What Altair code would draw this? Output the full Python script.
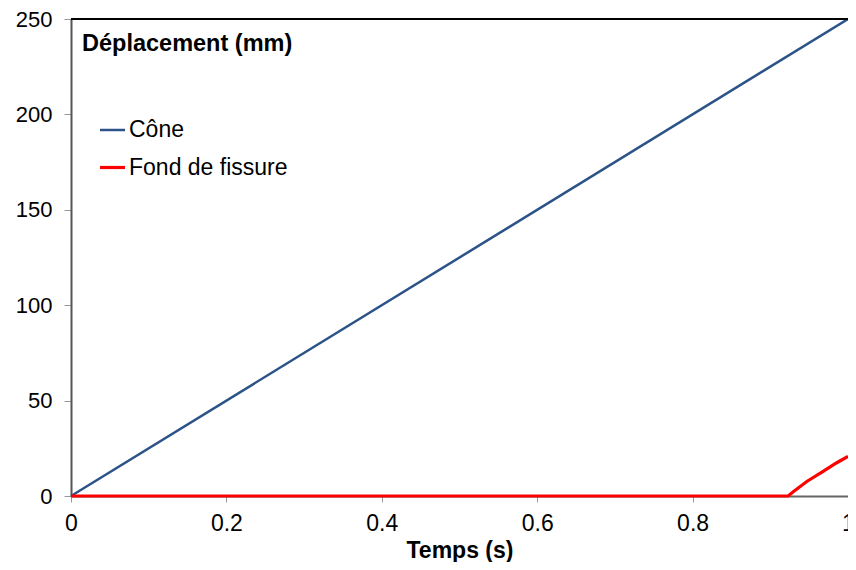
import altair as alt
import pandas as pd

# Data
cone_t = [0.0, 1.0]
cone_v = [0.0, 250.0]
fond_t = [0.0, 0.923, 0.930, 0.947, 0.968, 0.985, 1.0]
fond_v = [0.0, 0.0, 2.4, 7.6, 12.9, 17.3, 20.8]
series = ["Cône", "Fond de fissure"]
colors = ["#2C5388", "#FF0000"]
x_ticks = [0, 0.2, 0.4, 0.6, 0.8, 1]
y_ticks = [0, 50, 100, 150, 200, 250]

rows = []
for t, v in zip(cone_t, cone_v):
    rows.append({"t": t, "v": v, "s": series[0], "o": 0})
for t, v in zip(fond_t, fond_v):
    rows.append({"t": t, "v": v, "s": series[1], "o": 1})
df = pd.DataFrame(rows)

FONT = "Liberation Sans"
W, H = 777, 477
FS = 23

lines = alt.Chart(df).mark_line(clip=False).encode(
    x=alt.X("t:Q", scale=alt.Scale(domain=[0, 1], nice=False),
            axis=alt.Axis(values=x_ticks, title="Temps (s)", grid=False,
                          labelFontSize=FS, labelFont=FONT, labelColor="#000",
                          labelPadding=10, tickSize=6, tickColor="#999",
                          domainColor="#666", domainWidth=2,
                          titleFontSize=FS, titleFont=FONT, titleFontWeight="bold",
                          titleColor="#000", titlePadding=4, labelFlush=False,
                          format="~g")),
    y=alt.Y("v:Q", scale=alt.Scale(domain=[0, 250], nice=False),
            axis=alt.Axis(values=y_ticks, title=None, grid=False,
                          labelFontSize=22, labelFont=FONT, labelColor="#000",
                          labelPadding=12, tickSize=7, tickColor="#999",
                          domainColor="#555", domainWidth=2)),
    color=alt.Color("s:N", scale=alt.Scale(domain=series, range=colors),
                    legend=alt.Legend(title=None, orient="none", legendX=27, legendY=97,
                                      symbolType="stroke", symbolSize=625,
                                      symbolStrokeWidth=3, labelFontSize=FS,
                                      labelFont=FONT, labelColor="#000",
                                      labelOffset=2, rowPadding=11)),
    strokeWidth=alt.StrokeWidth("s:N", scale=alt.Scale(domain=series, range=[2.5, 3.2]), legend=None),
    order=alt.Order("o:Q"),
)

top_rule = alt.Chart(pd.DataFrame({"a": [0]})).mark_rule(color="#000", strokeWidth=2).encode(
    x=alt.value(0), x2=alt.value(W), y=alt.value(0)
)

title_txt = alt.Chart(pd.DataFrame({"label": ["Déplacement (mm)"]})).mark_text(
    align="left", baseline="middle", font=FONT, fontSize=FS + 0.5, fontWeight="bold", color="#000"
).encode(x=alt.value(11), y=alt.value(25), text="label:N")

chart = alt.layer(lines, top_rule, title_txt).properties(
    width=W, height=H,
    autosize=alt.AutoSizeParams(type="none"),
    padding={"left": 63, "top": 11, "right": 0, "bottom": 66},
).configure_view(stroke="#888888", strokeWidth=1).configure(background="white")

chart.save("out.html", embed_options={"renderer": "svg", "actions": False})
